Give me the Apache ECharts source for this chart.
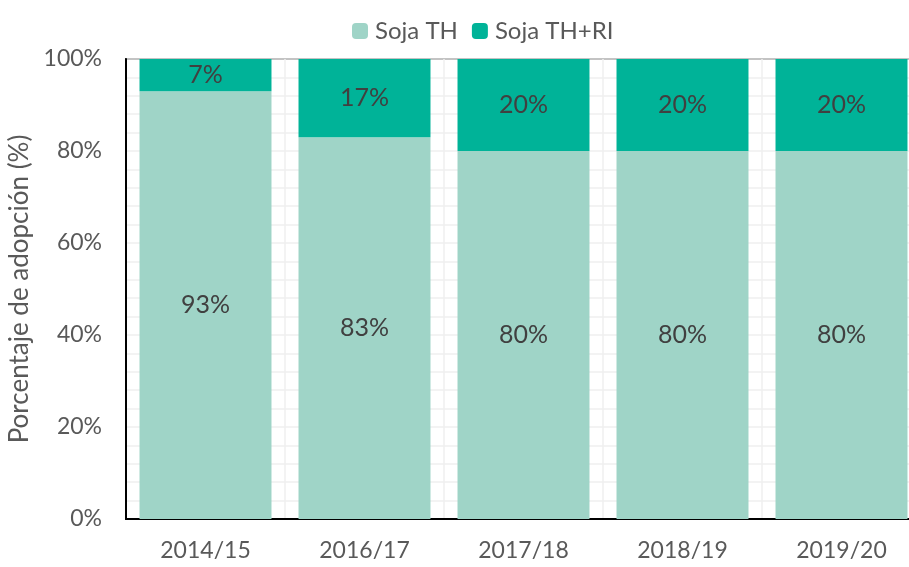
<!DOCTYPE html>
<html>
<head>
<meta charset="utf-8">
<script src="https://cdn.jsdelivr.net/npm/echarts@6/dist/echarts.min.js"></script>
<style>
html, body { margin: 0; padding: 0; background: #fff; overflow: hidden; }
#chart { width: 909px; height: 567px; }
</style>
</head>
<body>
<div id="chart"></div>
<script>
// campañas
var campanas = ['2014/15', '2016/17', '2017/18', '2018/19', '2019/20'];
// porcentaje de adopcion
var sojaTH = [93, 83, 80, 80, 80];
var sojaTHRI = [7, 17, 20, 20, 20];
var yTicks = [0, 20, 40, 60, 80, 100];

var fuente = 'Lato, "Noto Sans", sans-serif';

var chart = echarts.init(document.getElementById('chart'));

var option = {
    animation: false,
    color: ['#9fd4c7', '#00b398'],
    legend: {
        top: 14,
        left: 347,
        itemWidth: 16,
        itemHeight: 16,
        itemGap: 14,
        textStyle: { fontFamily: fuente, fontSize: 24, color: '#595959', padding: [0, 0, 0, 2] },
        data: ['Soja TH', 'Soja TH+RI']
    },
    // el area del grafico se sale por la derecha
    grid: {
        left: 126,
        top: 59,
        right: -12,
        bottom: 48,
        outerBoundsMode: 'none',
        show: true,
        borderColor: '#000',
        borderWidth: 1.5
    },
    xAxis: {
        type: 'category',
        data: campanas,
        axisLine: { lineStyle: { color: '#000', width: 2 } },
        axisTick: { show: false },
        axisLabel: { fontFamily: fuente, fontSize: 23, color: '#595959', margin: 20 },
        splitLine: { show: true, lineStyle: { color: '#efefef', width: 1.5 } }
    },
    yAxis: {
        type: 'value',
        min: yTicks[0],
        max: yTicks[yTicks.length - 1],
        interval: 20,
        name: 'Porcentaje de adopción (%)',
        nameLocation: 'middle',
        nameGap: 83,
        nameTextStyle: { fontFamily: fuente, fontSize: 26, color: '#595959' },
        axisLine: { show: true, lineStyle: { color: '#000', width: 2 } },
        axisTick: { show: false },
        axisLabel: {
            fontFamily: fuente, fontSize: 23, color: '#595959', margin: 24,
            formatter: function (v) { return v + '%'; }
        },
        splitLine: { show: true, lineStyle: { color: '#efefef', width: 1.5 } },
        minorTick: { show: false, splitNumber: 5 },
        minorSplitLine: { show: true, lineStyle: { color: '#efefef', width: 1.5 } }
    },
    series: [
        {
            name: 'Soja TH',
            type: 'bar',
            stack: 'total',
            barCategoryGap: '17%',
            data: sojaTH,
            label: {
                show: true, position: 'inside',
                fontFamily: fuente, fontSize: 25, color: '#404040',
                formatter: '{c}%'
            }
        },
        {
            name: 'Soja TH+RI',
            type: 'bar',
            stack: 'total',
            data: sojaTHRI,
            label: {
                show: true, position: 'inside',
                fontFamily: fuente, fontSize: 25, color: '#404040',
                formatter: '{c}%'
            }
        }
    ]
};

chart.setOption(option);
</script>
</body>
</html>
